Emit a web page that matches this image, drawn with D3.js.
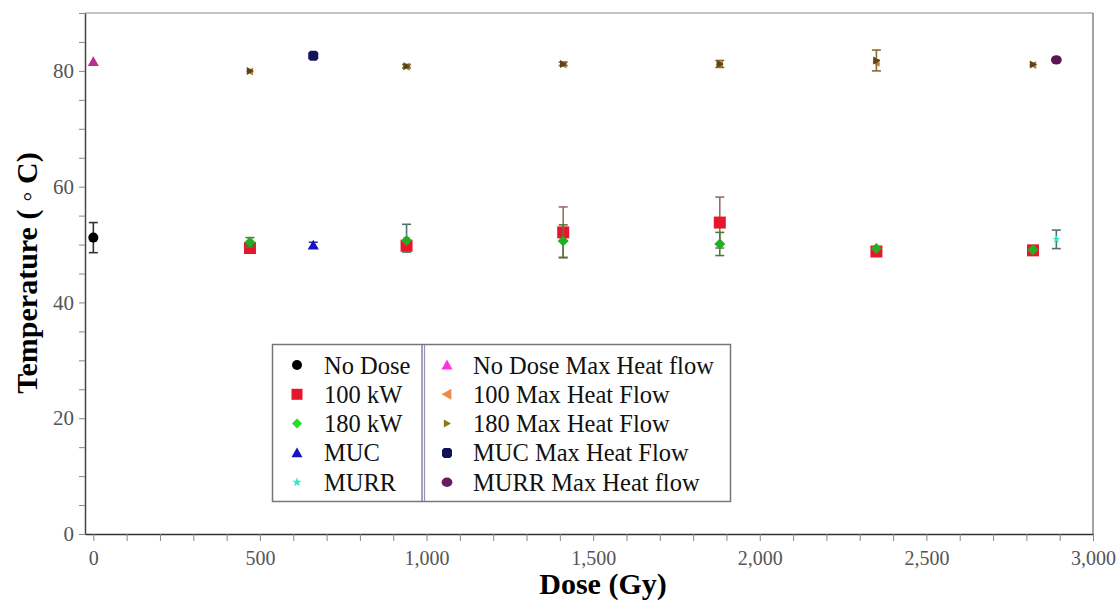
<!DOCTYPE html>
<html>
<head>
<meta charset="utf-8">
<script src="https://cdn.jsdelivr.net/npm/d3@7"></script>
<style>
  html, body { margin: 0; padding: 0; background: #fff; }
  svg { display: block; }
</style>
</head>
<body>
<svg id="chart" width="1120" height="600"></svg>
<script>
// ---------- data ----------
const seriesNames = ["No Dose", "100 kW", "180 kW", "MUC", "MURR",
  "No Dose Max Heat flow", "100 Max Heat Flow", "180 Max Heat Flow", "MUC Max Heat Flow", "MURR Max Heat flow"];

// dose (Gy), temperature (°C), error (±°C)
const noDose      = [[0, 51.2, 2.6]];
const kW100       = [[470, 49.4, 0], [940, 49.8, 0], [1410, 52.1, 4.4], [1880, 53.8, 4.4], [2350, 48.8, 0], [2820, 49.0, 0]];
const kW180       = [[470, 50.4, 0.8], [940, 50.7, 0], [1410, 50.6, 2.8], [1880, 50.1, 2.0], [2350, 49.3, 0], [2820, 49.1, 0]];
const muc         = [[660, 49.9, 0.5]];
const murr        = [[940, 51.1, 2.4], [2890, 50.9, 1.6]];
const noDoseMax   = [[0, 81.6, 0]];
const max100      = [[470, 79.9, 0], [940, 80.7, 0], [1410, 81.1, 0], [1880, 81.1, 0], [2350, 81.4, 0], [2820, 81.0, 0]];
const max180      = [[470, 80.0, 0], [940, 80.8, 0.3], [1410, 81.2, 0.3], [1880, 81.2, 0.6], [2350, 81.8, 1.8], [2820, 81.1, 0]];
const mucMax      = [[660, 82.6, 0.3]];
const murrMax     = [[2890, 81.9, 0]];

const xTickLabels = ["0", "500", "1,000", "1,500", "2,000", "2,500", "3,000"];
const yTickLabels = ["0", "20", "40", "60", "80"];

// ---------- styling ----------
const styles = [
  { data: noDose,    color: "#000000", err: "#333333", shape: "circle",   size: 10, lsize: 10 },
  { data: kW100,     color: "#e8162a", err: "#9a6a66", shape: "square",   size: 12, lsize: 11 },
  { data: kW180,     color: "#22b022", err: "#4f7a3a", shape: "diamond",  size: 11, lsize: 10, lcolor: "#22e022" },
  { data: muc,       color: "#1414c0", err: "#3a3a9a", shape: "triUp",    size: 11, lsize: 11 },
  { data: murr,      color: "#30e8c8", err: "#557070", shape: "star",     size: 5,  lsize: 6 },
  { data: noDoseMax, color: "#b8308a", err: "#b8308a", shape: "triUp",    size: 11, lsize: 11, lcolor: "#ff30e0" },
  { data: max100,    color: "#c07a3a", err: "#9a7a4a", shape: "triLeft",  size: 8,  lsize: 11, lcolor: "#f08a48" },
  { data: max180,    color: "#5a4612", err: "#8a6a30", shape: "triRight", size: 8,  lsize: 8,  lcolor: "#8a7a10" },
  { data: mucMax,    color: "#12125a", err: "#12125a", shape: "octagon",  size: 10, lsize: 10 },
  { data: murrMax,   color: "#5e1450", err: "#5e1450", shape: "ellipse",  size: 12, lsize: 12, lcolor: "#6a1a5e" }
];

// draw order (back to front)
const drawOrder = [6, 7, 5, 8, 9, 4, 1, 2, 3, 0];

// ---------- layout ----------
const svg = d3.select("#chart");
const x = d3.scaleLinear().domain([-25, 3000]).range([85, 1093]);
const y = d3.scaleLinear().domain([0, 90]).range([534, 13]);

// frame top/right
svg.append("line").attr("x1", 85).attr("x2", 1093).attr("y1", 13).attr("y2", 13)
  .attr("stroke", "#888").attr("stroke-width", 1);
svg.append("line").attr("x1", 1093).attr("x2", 1093).attr("y1", 13).attr("y2", 534)
  .attr("stroke", "#666").attr("stroke-width", 1.2);

// x axis
const xAxis = d3.axisBottom(x)
  .tickValues(d3.range(0, 3001, 100))
  .tickSize(7).tickSizeOuter(0)
  .tickFormat(d => d % 500 === 0 ? xTickLabels[d / 500] : "");
const gx = svg.append("g").attr("transform", "translate(0,534)").call(xAxis);
gx.select(".domain").attr("stroke", "#333").attr("stroke-width", 1.5);
gx.selectAll(".tick line").attr("stroke", "#888");
gx.selectAll(".tick text").attr("font-family", "Liberation Serif, serif").attr("font-size", 20)
  .attr("fill", "#555").attr("dy", "1.05em");

// y axis
const yAxis = d3.axisLeft(y)
  .tickValues(d3.range(0, 91, 5))
  .tickSize(6).tickSizeOuter(0)
  .tickFormat(d => d % 20 === 0 ? yTickLabels[d / 20] : "");
const gy = svg.append("g").attr("transform", "translate(85,0)").call(yAxis);
gy.select(".domain").attr("stroke", "#444").attr("stroke-width", 1.5);
gy.selectAll(".tick line").attr("stroke", "#888");
gy.selectAll(".tick text").attr("font-family", "Liberation Serif, serif").attr("font-size", 21)
  .attr("fill", "#555").attr("dx", "-0.1em");

// axis titles
svg.append("text").attr("x", 603).attr("y", 594).attr("text-anchor", "middle")
  .attr("font-family", "Liberation Serif, serif").attr("font-weight", "bold").attr("font-size", 30)
  .text("Dose (Gy)");
svg.append("text").attr("transform", "translate(37,273) rotate(-90)").attr("text-anchor", "middle")
  .attr("font-family", "Liberation Serif, serif").attr("font-weight", "bold").attr("font-size", 30)
  .text("Temperature ( \u25E6 C)");

// ---------- marker shapes ----------
function shapePath(shape, s) {
  const h = s / 2;
  switch (shape) {
    case "circle": return d3.symbol(d3.symbolCircle, Math.PI * h * h)();
    case "square": return `M${-h},${-h}H${h}V${h}H${-h}Z`;
    case "diamond": return `M0,${-h}L${h},0L0,${h}L${-h},0Z`;
    case "triUp": return `M0,${-h}L${h},${h * 0.8}L${-h},${h * 0.8}Z`;
    case "triLeft": return `M${-h},0L${h * 0.8},${-h}L${h * 0.8},${h}Z`;
    case "triRight": return `M${h},0L${-h * 0.8},${-h}L${-h * 0.8},${h}Z`;
    case "star": return d3.symbol(d3.symbolStar, s * s * 0.8)();
    case "octagon": {
      const a = h, b = h * 0.6;
      return `M${-b},${-a}L${b},${-a}L${a},${-b}L${a},${b}L${b},${a}L${-b},${a}L${-a},${b}L${-a},${-b}Z`;
    }
    case "ellipse": {
      const rx = h * 0.9, ry = h * 0.78;
      return `M${-rx},0A${rx},${ry} 0 1,0 ${rx},0A${rx},${ry} 0 1,0 ${-rx},0Z`;
    }
  }
}

// ---------- series ----------
drawOrder.forEach(i => {
  const st = styles[i];
  const g = svg.append("g").attr("class", "series-" + i);
  const withErr = st.data.filter(d => d[2] > 0);
  const eg = g.selectAll("g.err").data(withErr).enter().append("g").attr("class", "err")
    .attr("stroke", st.err).attr("stroke-width", 1.6);
  eg.append("line").attr("x1", d => x(d[0])).attr("x2", d => x(d[0]))
    .attr("y1", d => y(d[1] + d[2])).attr("y2", d => y(d[1] - d[2]));
  eg.append("line").attr("x1", d => x(d[0]) - 4.5).attr("x2", d => x(d[0]) + 4.5)
    .attr("y1", d => y(d[1] + d[2])).attr("y2", d => y(d[1] + d[2]));
  eg.append("line").attr("x1", d => x(d[0]) - 4.5).attr("x2", d => x(d[0]) + 4.5)
    .attr("y1", d => y(d[1] - d[2])).attr("y2", d => y(d[1] - d[2]));
  g.selectAll("path.pt").data(st.data).enter().append("path").attr("class", "pt")
    .attr("d", shapePath(st.shape, st.size))
    .attr("transform", d => `translate(${x(d[0])},${y(d[1])})`)
    .attr("fill", st.color);
});

// ---------- legend ----------
const lg = svg.append("g");
lg.append("rect").attr("x", 272.5).attr("y", 344.5).attr("width", 458).attr("height", 157)
  .attr("fill", "#fff").attr("stroke", "#777").attr("stroke-width", 1.5);
lg.append("line").attr("x1", 422).attr("x2", 422).attr("y1", 345).attr("y2", 501)
  .attr("stroke", "#8a80a0").attr("stroke-width", 1.5);
lg.append("line").attr("x1", 424.5).attr("x2", 424.5).attr("y1", 345).attr("y2", 501)
  .attr("stroke", "#9a90aa").attr("stroke-width", 1.2);

seriesNames.forEach((name, i) => {
  const st = styles[i];
  const col = i < 5 ? 0 : 1;
  const row = i % 5;
  const cy = 365 + row * 29.3;
  const mx = col === 0 ? 297 : 447;
  const tx = col === 0 ? 324 : 473;
  lg.append("path").attr("d", shapePath(st.shape, st.lsize))
    .attr("transform", `translate(${mx},${cy})`).attr("fill", st.lcolor || st.color);
  lg.append("text").attr("x", tx).attr("y", cy).attr("dy", "0.35em")
    .attr("font-family", "Liberation Serif, serif").attr("font-size", 24.5).attr("fill", "#111")
    .text(name);
});
</script>
</body>
</html>
